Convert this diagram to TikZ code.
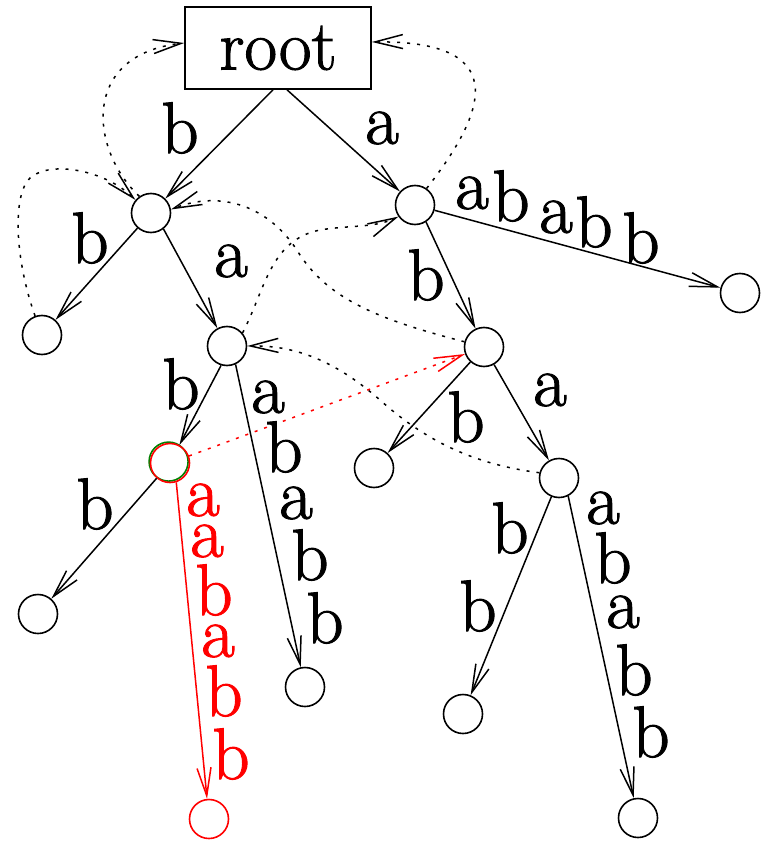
\documentclass[tikz,border=0pt]{standalone}
\usepackage{fontspec}
\newfontfamily\labelfont{Latin Modern Roman}[FakeBold=1.3]
\usetikzlibrary{arrows.meta}
\begin{document}
\begin{tikzpicture}[x=1pt,y=-1pt,
  st/.style={circle, draw, line width=1.6pt, minimum size=39pt, inner sep=0pt},
  edge/.style={line width=1.5pt, -{Straight Barb[length=28pt,width=14pt,line width=1.5pt]}},
  link/.style={edge, dash pattern=on 3pt off 7pt},
  lab/.style={font=\labelfont\fontsize{73}{80}\selectfont, inner sep=0pt},
  redlab/.style={lab, text=red}]
\useasboundingbox (0,0) rectangle (767,842);

% states of the suffix tree
\node[draw, line width=1.6pt, minimum width=186pt, minimum height=82pt, inner sep=0pt,
      font=\labelfont\fontsize{71}{80}\selectfont] (root) at (278,48) {root};
\node[st] (n1) at (151,213) {};
\node[st] (n2) at (415,205) {};
\node[st] (n3) at (740,293) {};
\node[st] (n4) at (42,335) {};
\node[st] (n5) at (227,346) {};
\node[st] (n6) at (484,347) {};
\node[st, draw=green!50!black] (n7g) at (168.6,461.6) {};
\node[st, draw=red] (n7) at (170,463) {};
\node[st] (n8) at (374,468) {};
\node[st] (n9) at (559,478) {};
\node[st] (n10) at (38,614) {};
\node[st, draw=red] (n11) at (209,819) {};
\node[st] (n12) at (305,687) {};
\node[st] (n13) at (463,714) {};
\node[st] (n14) at (638,818) {};

% tree edges
\draw[edge] ([xshift=-5pt]root.south) -- (n1);
\draw[edge] ([xshift=9pt]root.south) -- (n2);
\draw[edge] (n1) -- (n4);
\draw[edge] (n1.-52) -- (n5);
\draw[edge] (n2.-57) -- (n6);
\draw[edge] (n2) -- (n3);
\draw[edge] (n5.-107) -- (n7);
\draw[edge] (n5.-65) -- (n12);
\draw[edge] (n6) -- (n8);
\draw[edge] (n6) -- (n9);
\draw[edge] (n7) -- (n10);
\draw[edge, red] (n7.-72) -- (n11);
\draw[edge] (n9) -- (n13);
\draw[edge] (n9.-63) -- (n14);

% suffix links
\draw[link] (n1.125) .. controls (90,150) and (80,55) .. ([yshift=5pt]root.west);
\draw[link] (n2.55) .. controls (480,120) and (520,40) .. ([yshift=6pt]root.east);
\draw[link] (n4.110) .. controls (15,260) and (12,195) .. (30,178)
             .. controls (50,160) and (105,170) .. (n1.140);
\draw[link] (n6.165) .. controls (380,320) and (330,300) .. (300,255)
             .. controls (270,205) and (220,190) .. (n1.10);
\draw[link] (n5.40) .. controls (265,290) and (270,240) .. (320,230)
             .. controls (350,225) and (375,228) .. (n2.215);
\draw[link] (n9.165) .. controls (480,465) and (430,445) .. (380,400)
             .. controls (340,365) and (300,345) .. (n5.east);
\draw[link, red] (n7) -- (n6);

% edge labels
\node[lab] (l1) at (180,128) {b};
\node[lab] (l2) at (382,128) {a};
\node[lab] (l3) at (90,238) {b};
\node[lab] (l4) at (231,261) {a};
\node[lab] (l5a) at (472,193) {a};
\node[lab] (l5b) at (511,196) {b};
\node[lab] (l5c) at (556,217) {a};
\node[lab] (l5d) at (594,222) {b};
\node[lab] (l5e) at (641,238) {b};
\node[lab] (l6) at (426,275) {b};
\node[lab] (l7) at (181,384) {b};
\node[lab] (l8a) at (268,397) {a};
\node[lab] (l8b) at (284,447) {b};
\node[lab] (l8c) at (296,503) {a};
\node[lab] (l8d) at (310,555) {b};
\node[lab] (l8e) at (325,618) {b};
\node[lab] (l9) at (466,417) {b};
\node[lab] (l10) at (550,390) {a};
\node[lab] (l11) at (95,504) {b};
\node[redlab] (l12a) at (203,500) {a};
\node[redlab] (l12b) at (207,541) {a};
\node[redlab] (l12c) at (214,590) {b};
\node[redlab] (l12d) at (218,641) {a};
\node[redlab] (l12e) at (224,691) {b};
\node[redlab] (l12f) at (231,754) {b};
\node[lab] (l13a) at (510,528) {b};
\node[lab] (l13b) at (478,606) {b};
\node[lab] (l14a) at (603,508) {a};
\node[lab] (l14b) at (613,558) {b};
\node[lab] (l14c) at (623,612) {a};
\node[lab] (l14d) at (634,670) {b};
\node[lab] (l14e) at (651,732) {b};
\end{tikzpicture}
\end{document}
